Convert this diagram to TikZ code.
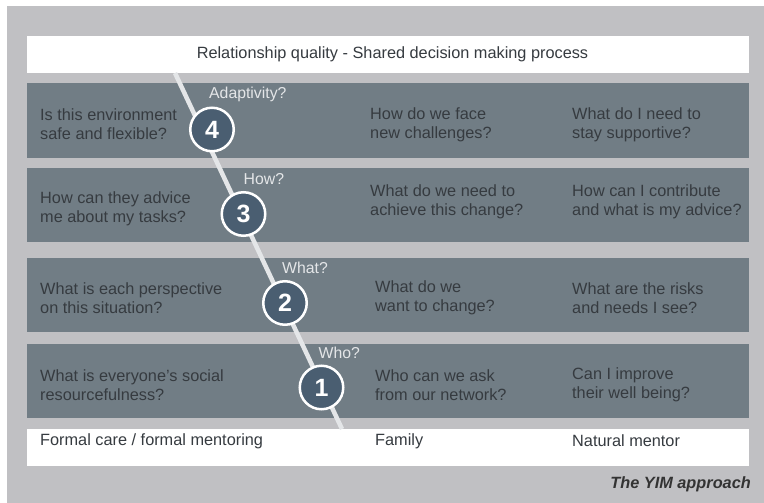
\documentclass[tikz,border=0pt]{standalone}
\usepackage{fontspec}
\setmainfont{Liberation Sans}
\usetikzlibrary{positioning}
\definecolor{backc}{HTML}{C0C0C3}
\definecolor{bandc}{HTML}{717D85}
\definecolor{darktext}{HTML}{363B40}
\definecolor{circc}{HTML}{4A5E71}
\definecolor{linec}{HTML}{E4E6E8}
\begin{document}
\begin{tikzpicture}[x=1pt, y=-1pt, every node/.style={font=\fontsize{16.3}{19}\selectfont, text=darktext},
	band/.style={fill=bandc, minimum width=722pt, minimum height=74pt, inner sep=0pt},
	whitebar/.style={fill=white, minimum width=722pt, minimum height=37pt, inner sep=0pt},
	question/.style={anchor=west, align=left, inner sep=0pt},
	stepcirc/.style={circle, fill=circc, draw=white, line width=2.5pt, minimum size=43.5pt, inner sep=0pt, text=white, font=\fontsize{25}{25}\selectfont\bfseries},
	steplabel/.style={anchor=west, inner sep=0pt, text=linec, font=\fontsize{15.8}{18}\selectfont}]
	\useasboundingbox (0,0) rectangle (764,503);
	\fill[backc] (7,6) rectangle (764,503);
	\node[whitebar] (top) at (388,54.5) {};
	\node[inner sep=0pt] (title) at (392.5,54.5) {Relationship quality - Shared decision making process};
	\node[band] (b4) at (388,120.5) {};
	\node[band] (b3) at (388,205) {};
	\node[band] (b2) at (388,294.5) {};
	\node[band] (b1) at (388,381) {};
	\node[whitebar] (bottom) at (388,447) {};
	\coordinate (linetop) at (175,73);
	\coordinate (linebot) at (342,429);
	\draw[linec, line width=4.5pt] (linetop) -- (linebot);
	\node[question] (q4a) at (40,124.5) {Is this environment\\safe and flexible?};
	\node[question] (q4b) at (370,124.5) {How do we face\\new challenges?};
	\node[question] (q4c) at (572,124.5) {What do I need to\\stay supportive?};
	\node[question] (q3a) at (40,209) {How can they advice\\me about my tasks?};
	\node[question] (q3b) at (370,201.5) {What do we need to\\achieve this change?};
	\node[question] (q3c) at (572,201.5) {How can I contribute\\and what is my advice?};
	\node[question] (q2a) at (40,298) {What is each perspective\\on this situation?};
	\node[question] (q2b) at (375,298) {What do we\\want to change?};
	\node[question] (q2c) at (572,298) {What are the risks\\and needs I see?};
	\node[question] (q1a) at (40,385) {What is everyone's social\\resourcefulness?};
	\node[question] (q1b) at (375,385) {Who can we ask\\from our network?};
	\node[question] (q1c) at (572,385) {Can I improve\\their well being?};
	\node[question] (f1) at (40,441) {Formal care / formal mentoring};
	\node[question] (f2) at (375,441) {Family};
	\node[question] (f3) at (572,441) {Natural mentor};
	\node[stepcirc] (c4) at (212,129.5) {4};
	\node[stepcirc] (c3) at (243.5,214) {3};
	\node[stepcirc] (c2) at (285,303) {2};
	\node[stepcirc] (c1) at (321.5,387.5) {1};
	\node[steplabel] (l4) at ([xshift=-3pt, yshift=12pt]c4.north) {Adaptivity?};
	\node[steplabel] (l3) at ([xshift=0pt, yshift=12pt]c3.north) {How?};
	\node[steplabel] (l2) at ([xshift=-3pt, yshift=12pt]c2.north) {What?};
	\node[steplabel] (l1) at ([xshift=-3pt, yshift=12pt]c1.north) {Who?};
	\node[anchor=east, inner sep=0pt, text=black!80, font=\fontsize{16.3}{19}\selectfont\bfseries\itshape] (yim) at (751,484) {The YIM approach};
\end{tikzpicture}
\end{document}
